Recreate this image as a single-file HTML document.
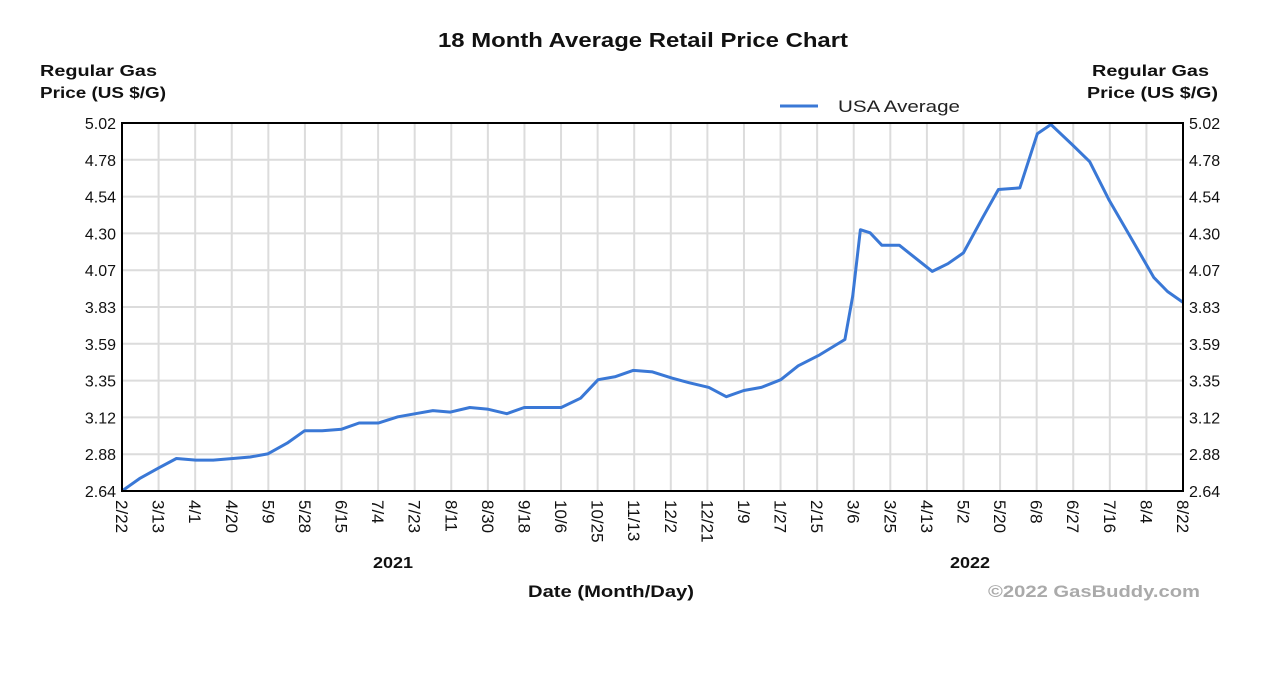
<!DOCTYPE html>
<html><head><meta charset="utf-8"><style>
body{margin:0;background:#fff;width:1284px;height:672px;overflow:hidden;font-family:"Liberation Sans",Arial,sans-serif}
</style></head><body>
<svg id="chart" width="1284" height="672" xmlns="http://www.w3.org/2000/svg" font-family="Liberation Sans, Arial, sans-serif">
<rect width="1284" height="672" fill="#fff"/>
<g id="grid"></g>
<g id="line"></g>
<rect x="122" y="123" width="1061" height="368" fill="none" stroke="#000" stroke-width="2"/>
<g id="labels"></g>
<text x="438" y="47" textLength="410" lengthAdjust="spacingAndGlyphs" font-size="20" font-weight="bold" fill="#111">18 Month Average Retail Price Chart</text>
<text font-size="16" font-weight="bold" fill="#111"><tspan x="40" y="76" textLength="117" lengthAdjust="spacingAndGlyphs">Regular Gas</tspan><tspan x="40" y="98" textLength="126" lengthAdjust="spacingAndGlyphs">Price (US $/G)</tspan></text>
<text font-size="16" font-weight="bold" fill="#111"><tspan x="1092" y="76" textLength="117" lengthAdjust="spacingAndGlyphs">Regular Gas</tspan><tspan x="1087" y="98" textLength="131" lengthAdjust="spacingAndGlyphs">Price (US $/G)</tspan></text>
<g><line x1="780" y1="106" x2="818" y2="106" stroke="#3a78d6" stroke-width="3"/><text x="838" y="112" textLength="122" lengthAdjust="spacingAndGlyphs" font-size="17" fill="#222">USA Average</text></g>
<text x="373" y="568" textLength="40" lengthAdjust="spacingAndGlyphs" font-size="16" font-weight="bold" fill="#111">2021</text>
<text x="950" y="568" textLength="40" lengthAdjust="spacingAndGlyphs" font-size="16" font-weight="bold" fill="#111">2022</text>
<text x="528" y="597" textLength="166" lengthAdjust="spacingAndGlyphs" font-size="17" font-weight="bold" fill="#111">Date (Month/Day)</text>
<text x="988" y="597" textLength="212" lengthAdjust="spacingAndGlyphs" font-size="17" font-weight="bold" fill="#aaa">©2022 GasBuddy.com</text>
</svg>
<script>
const yTicks=["2.64","2.88","3.12","3.35","3.59","3.83","4.07","4.30","4.54","4.78","5.02"];
const xTicks=["2/22","3/13","4/1","4/20","5/9","5/28","6/15","7/4","7/23","8/11","8/30","9/18","10/6","10/25","11/13","12/2","12/21","1/9","1/27","2/15","3/6","3/25","4/13","5/2","5/20","6/8","6/27","7/16","8/4","8/22"];
const days=[0,9,19,28,38,47,57,66,75,85,94,103,113,122,132,142,151,160,169,179,188,198,207,217,226,236,245,254,263,273,283,292,302,311,320,329,339,348,359,372,376,380,385,391,400,405,417,425,433,443,451,462,471,478,489,498,508,520,531,538,546];
const prices=[2.64,2.72,2.79,2.85,2.84,2.84,2.85,2.86,2.88,2.95,3.03,3.03,3.04,3.08,3.08,3.12,3.14,3.16,3.15,3.18,3.17,3.14,3.18,3.18,3.18,3.24,3.36,3.38,3.42,3.41,3.37,3.34,3.31,3.25,3.29,3.31,3.36,3.45,3.52,3.62,3.90,4.33,4.31,4.23,4.23,4.18,4.06,4.11,4.18,4.41,4.59,4.60,4.95,5.01,4.88,4.77,4.52,4.26,4.02,3.93,3.86];
const L=122,R=1183,T=123,B=491,NS="http://www.w3.org/2000/svg";
const yMin=2.64,yMax=5.02,dMax=546;
const xs=d=>L+d/dMax*(R-L);
const ys=v=>B-(v-yMin)/(yMax-yMin)*(B-T);
const grid=document.getElementById('grid'),lab=document.getElementById('labels');
function mk(tag,attrs,parent){const e=document.createElementNS(NS,tag);for(const k in attrs)e.setAttribute(k,attrs[k]);parent.appendChild(e);return e;}
yTicks.forEach((t,i)=>{
  const y=T+(B-T)*(yTicks.length-1-i)/(yTicks.length-1);
  const g=mk('line',{x1:L,x2:R,y1:y,y2:y,stroke:'#dcdcdc','stroke-width':2},grid);
  
  
  const a=mk('text',{x:L-6,y:y+6,'text-anchor':'end','font-size':16,fill:'#111'},lab);a.textContent=t;
  
  
  const b=mk('text',{x:R+6,y:y+6,'font-size':16,fill:'#111'},lab);b.textContent=t;
  
  
});
xTicks.forEach((t,i)=>{
  const x=L+(R-L)*i/(xTicks.length-1);
  const g=mk('line',{x1:x,x2:x,y1:T,y2:B,stroke:'#dcdcdc','stroke-width':2},grid);
  
  
  const a=mk('text',{x:0,y:0,'font-size':17,fill:'#111',transform:`translate(${x-6},${B+9}) rotate(90)`},lab);a.textContent=t;
  
  
});
const p=mk('polyline',{points:days.map((d,i)=>xs(d).toFixed(1)+','+ys(prices[i]).toFixed(1)).join(' '),fill:'none',stroke:'#3a78d6','stroke-width':3,'stroke-linejoin':'round'},document.getElementById('line'));


</script>
</body></html>
